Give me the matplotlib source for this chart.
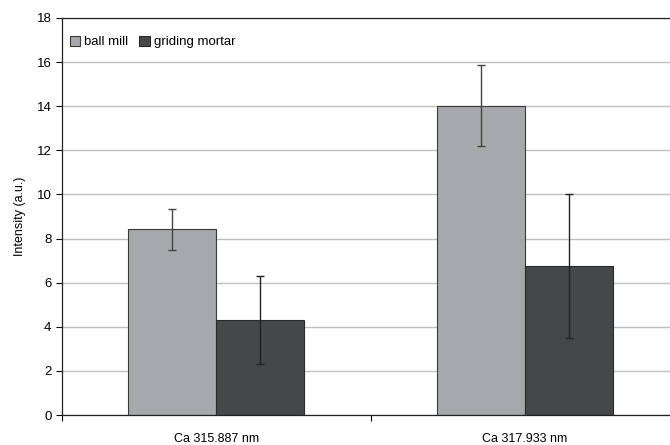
import numpy as np
import matplotlib.pyplot as plt

categories = ["Ca 315.887 nm", "Ca 317.933 nm"]
ball_mill = [8.43, 14.03]
ball_mill_err = [0.93, 1.85]
mortar = [4.3, 6.74]
mortar_err = [2.0, 3.26]

plt.rcParams['font.family'] = ['Liberation Sans Narrow', 'Liberation Sans', 'DejaVu Sans']

fig = plt.figure(figsize=(6.7, 4.45), dpi=100)
ax = fig.add_axes([0.0925, 0.0674, 0.921, 0.8922])

ind = np.arange(len(categories))
width = 0.286
ax.bar(ind - width / 2, ball_mill, width, yerr=ball_mill_err, color="#a7a8ab",
       edgecolor="#3a3a3a", linewidth=0.8, label="ball mill", zorder=2,
       error_kw=dict(ecolor="#444444", elinewidth=1.0, capsize=3, capthick=1.0))
ax.bar(ind + width / 2, mortar, width, yerr=mortar_err, color="#464749",
       edgecolor="#2a2a2a", linewidth=0.8, label="griding mortar", zorder=2,
       error_kw=dict(ecolor="#222222", elinewidth=1.0, capsize=3, capthick=1.0))

ax.set_xlim(-0.5, 1.5)
ax.set_ylim(0, 18)
ax.set_yticks(np.arange(0, 19, 2))
ax.set_xticks(ind)
ax.set_xticklabels(categories, fontsize=9)
ax.tick_params(axis='x', length=0, pad=13)
ax.tick_params(axis='y', labelsize=9.5, length=4, width=0.8, direction='out')
ax.set_xticks([-0.5, 0.5, 1.5], minor=True)
ax.tick_params(axis='x', which='minor', length=4, width=0.8, direction='out')
ax.grid(axis='y', color="#c0c0c0", linewidth=1.0, zorder=0)
ax.set_axisbelow(True)
for s in ['top', 'left', 'bottom', 'right']:
    ax.spines[s].set_color("#222222")
    ax.spines[s].set_linewidth(0.9)

ax.set_ylabel("Intensity (a.u.)", fontsize=9, labelpad=8)

ax.legend(loc='upper left', bbox_to_anchor=(0.0, 0.975), ncol=2, frameon=False,
          fontsize=9.5, handlelength=0.8, handleheight=0.8, handletextpad=0.3,
          columnspacing=0.8, borderaxespad=0.2)

fig.savefig("out.png", dpi=100)
